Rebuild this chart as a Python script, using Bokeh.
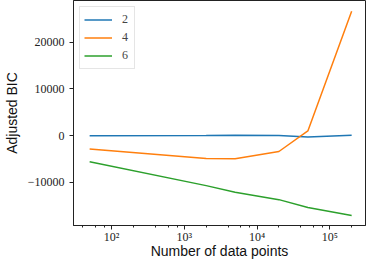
from bokeh.plotting import figure
from bokeh.models import Range1d, FixedTicker, LogTicker, Legend, LegendItem, CustomJSTickFormatter
from bokeh.embed import file_html
from bokeh.resources import INLINE

n_points = [50, 2000, 5000, 20000, 50000, 200000]
bic_2 = [-50, 0, 50, 0, -300, 50]
bic_4 = [-2850, -4900, -4950, -3400, 1000, 26600]
bic_6 = [-5600, -10700, -12100, -13700, -15400, -17100]
series_names = ["2", "4", "6"]
y_ticks = [-10000, 0, 10000, 20000]

colors = ["#1f77b4", "#ff7f0e", "#2ca02c"]

x_lo, x_hi = 30, 310000
y_lo, y_hi = -19230, 28900

p = figure(width=366, height=261, x_axis_type="log",
           x_range=Range1d(x_lo, x_hi), y_range=Range1d(y_lo, y_hi),
           output_backend="svg", toolbar_location=None,
           min_border_left=64, min_border_right=1, min_border_top=0, min_border_bottom=20)

renderers = []
for ys, c in zip([bic_2, bic_4, bic_6], colors):
    r = p.line(n_points, ys, line_color=c, line_width=1.5)
    renderers.append(r)

legend = Legend(items=[LegendItem(label=n, renderers=[r]) for n, r in zip(series_names, renderers)],
                location="top_left")
legend.margin = 6
legend.padding = 4
legend.spacing = 1
legend.glyph_width = 28
legend.glyph_height = 17
legend.label_height = 17
legend.label_width = 8
legend.label_standoff = 10
legend.label_text_font = "Liberation Serif"
legend.label_text_font_size = "12px"
legend.border_line_color = "#cccccc"
legend.border_line_width = 1
legend.background_fill_alpha = 0.8
p.add_layout(legend)

p.xgrid.visible = False
p.ygrid.visible = False
p.outline_line_color = "#222222"
p.outline_line_width = 1

p.yaxis.ticker = FixedTicker(ticks=y_ticks, minor_ticks=[])
p.yaxis.formatter = CustomJSTickFormatter(code="return String(tick).replace('-', '\u2212');")
p.xaxis.ticker = LogTicker(desired_num_ticks=5)
p.xaxis.formatter = CustomJSTickFormatter(code="""
const sup = {'0':'\u2070','1':'\u00b9','2':'\u00b2','3':'\u00b3','4':'\u2074','5':'\u2075','6':'\u2076','7':'\u2077','8':'\u2078','9':'\u2079','-':'\u207b'};
const e = Math.round(Math.log10(tick));
return '10' + String(e).split('').map(c => sup[c]).join('');
""")

for ax in [p.xaxis[0], p.yaxis[0]]:
    ax.axis_line_color = "#222222"
    ax.major_tick_line_color = "#222222"
    ax.minor_tick_line_color = "#222222"
    ax.major_tick_out = 4
    ax.major_tick_in = 0
    ax.minor_tick_out = 2
    ax.minor_tick_in = 0
    ax.major_label_text_font = "Liberation Serif"
    ax.major_label_text_font_size = "12px"
    ax.major_label_text_color = "#222222"
    ax.axis_label_text_font = "Liberation Sans"
    ax.axis_label_text_font_size = "14px"
    ax.axis_label_text_font_style = "normal"
    ax.axis_label_text_color = "#111111"

p.xaxis.axis_label = "Number of data points"
p.yaxis.axis_label = "Adjusted BIC"
p.yaxis.major_label_orientation = "horizontal"
p.yaxis.axis_label_standoff = 5
p.xaxis.major_label_standoff = 0
p.xaxis.axis_label_standoff = -4

open("out.html", "w").write(file_html(p, INLINE))
